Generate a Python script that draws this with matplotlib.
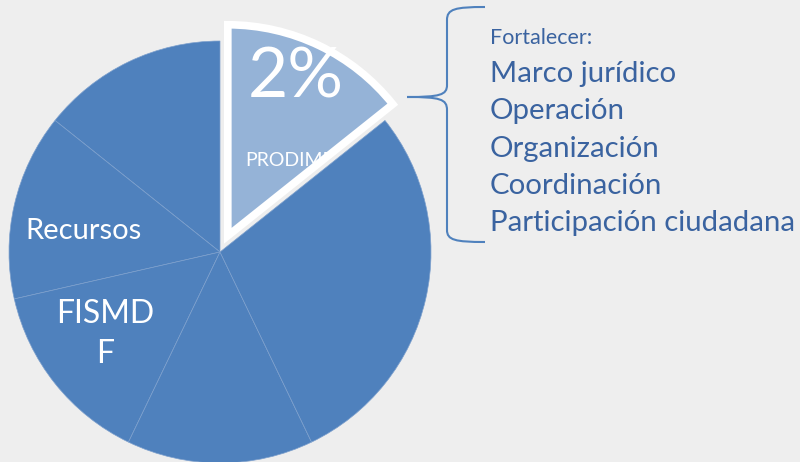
import matplotlib.pyplot as plt
from matplotlib.path import Path
from matplotlib.patches import PathPatch, Wedge

# slice shares (each small slice is about 1/7 of the pie)
slice_names = ['', 'Recursos', 'FISMDF', '', '', 'PRODIMDF']
slice_values = [1, 1, 1, 1, 2, 1]
explode = [0, 0, 0, 0, 0, 18]   # pixels, pie is drawn in pixel units

highlight_pct = '2%'
list_title = 'Fortalecer:'
list_items = ['Marco jurídico', 'Operación', 'Organización',
              'Coordinación', 'Participación ciudadana']

bg = '#EEEEEE'
blue = '#4F81BD'
light_blue = '#95B3D7'
text_blue = '#3A63A0'
H = 462

plt.rcParams['font.family'] = ['Lato', 'DejaVu Sans']

fig = plt.figure(figsize=(8, 4.62), dpi=100, facecolor=bg)
ax = fig.add_axes([0, 0, 1, 1])
ax.set_facecolor(bg)

colors = [blue] * 5 + [light_blue]
wedges, _ = ax.pie(slice_values, colors=colors, startangle=90, counterclock=True,
                   explode=explode, center=(220, H - 252), radius=211, frame=True,
                   wedgeprops=dict(edgecolor='#7DA0CD', linewidth=0.5))
ax.set_xlim(0, 800)
ax.set_ylim(0, H)
ax.set_aspect('equal')
ax.axis('off')

# highlighted slice; its label runs past the slice edge and gets cut there
hl = wedges[-1]
hl.set_edgecolor('none')
hl.set_zorder(3)
ax.text(245, H - 166, slice_names[-1], color='white', fontsize=14,
        va='baseline', ha='left', zorder=3.5)
# agg ignores clip paths on text, so hide the overflow instead
ax.add_patch(Wedge(hl.center, hl.r, hl.theta1 - 25, hl.theta1, facecolor=bg,
                   edgecolor='none', zorder=3.6))
wedges[4].set_zorder(3.7)
ax.add_patch(Wedge(hl.center, hl.r, hl.theta1, hl.theta2, facecolor='none',
                   edgecolor='white', linewidth=5.5, joinstyle='miter', zorder=4))

ax.text(248, H - 97, highlight_pct, color='white', fontsize=50,
        va='baseline', ha='left', zorder=5)
ax.text(25, H - 239, slice_names[1], color='white', fontsize=21,
        va='baseline', ha='left', zorder=5)
ax.text(105, H - 323, slice_names[2][:5], color='white', fontsize=23,
        va='baseline', ha='center', zorder=5)
ax.text(105, H - 363, slice_names[2][5:], color='white', fontsize=23,
        va='baseline', ha='center', zorder=5)

# curly brace pointing at the highlighted slice
def P(x, y):
    return (x, H - y)

verts = [P(485, 7), P(455, 7), P(447, 9), P(447, 20),
         P(447, 85),
         P(447, 95), P(440, 97), P(407, 97),
         P(440, 97), P(447, 99), P(447, 110),
         P(447, 230),
         P(447, 240), P(455, 242), P(485, 242)]
codes = [Path.MOVETO, Path.CURVE4, Path.CURVE4, Path.CURVE4,
         Path.LINETO,
         Path.CURVE4, Path.CURVE4, Path.CURVE4,
         Path.CURVE4, Path.CURVE4, Path.CURVE4,
         Path.LINETO,
         Path.CURVE4, Path.CURVE4, Path.CURVE4]
ax.add_patch(PathPatch(Path(verts, codes), facecolor='none', edgecolor=blue,
                       linewidth=1.5, zorder=5))

ax.text(490, H - 44, list_title, color=text_blue, fontsize=15.5, va='baseline', ha='left')
for i, item in enumerate(list_items):
    ax.text(490, H - (82 + 37.3 * i), item, color=text_blue, fontsize=21.2,
            va='baseline', ha='left')

fig.savefig('out.png', dpi=100, facecolor=bg)
